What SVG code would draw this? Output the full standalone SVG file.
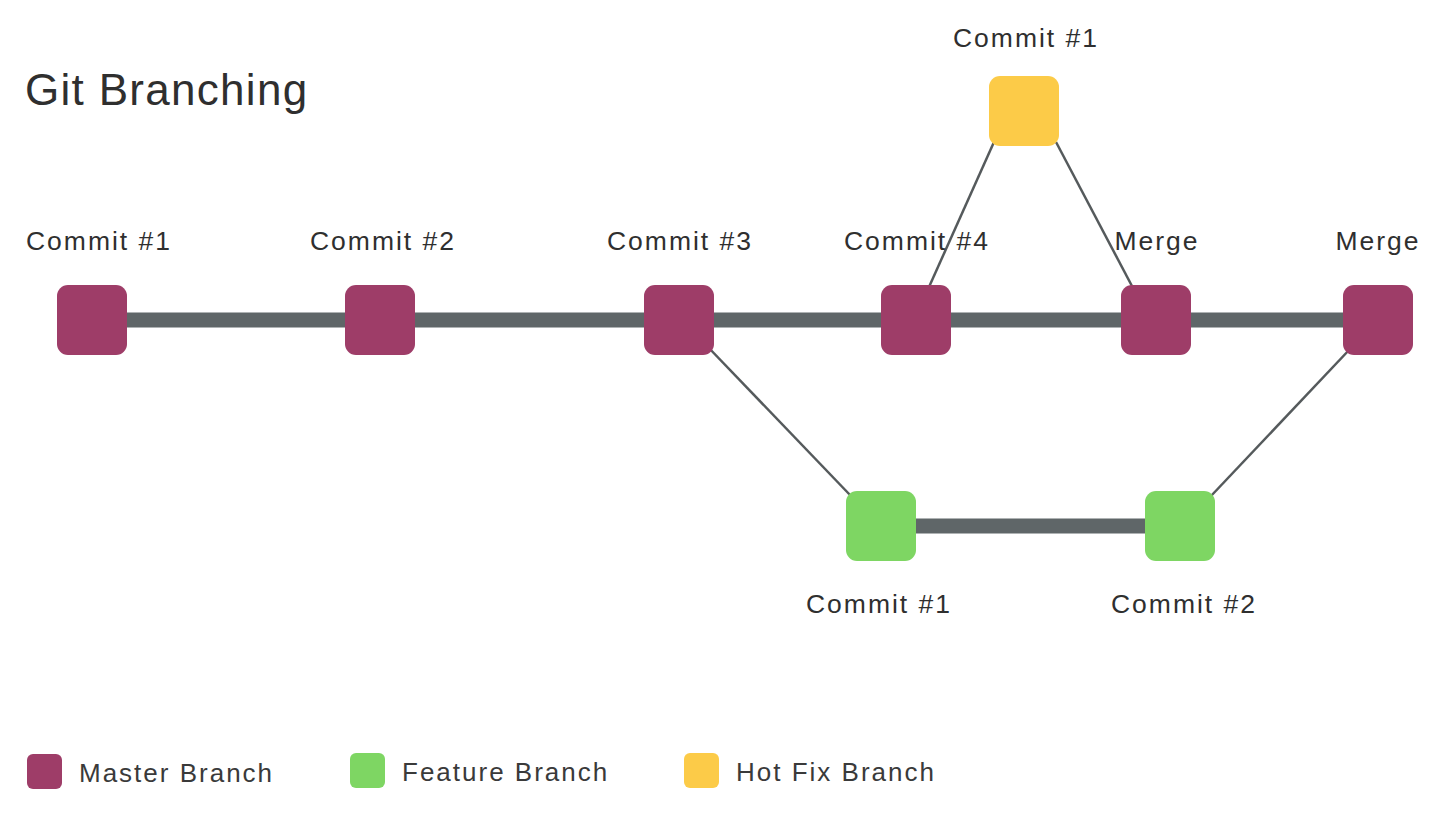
<svg xmlns="http://www.w3.org/2000/svg" width="1443" height="818" viewBox="0 0 1443 818">
  <style>
    .lbl { font-family: "Liberation Sans", Arial, sans-serif; font-size: 26.5px; fill: #2f2f2f; text-anchor: middle; letter-spacing: 2px; }
    .title { font-family: "Liberation Sans", Arial, sans-serif; font-size: 44px; fill: #2f2f2f; letter-spacing: 1.3px; }
    .legend { font-family: "Liberation Sans", Arial, sans-serif; font-size: 26px; fill: #3a3a3a; letter-spacing: 2px; }
    .master { fill: #9e3d68; }
    .feature { fill: #7ed663; }
    .hotfix { fill: #fccb48; }
    .trunk { stroke: #5f6668; stroke-width: 15; fill: none; }
    .link { stroke: #555a5c; stroke-width: 2.5; fill: none; }
  </style>
  <rect width="1443" height="818" fill="#ffffff"/>

  <text class="title" x="25" y="105">Git Branching</text>

  <!-- branch lines: thick trunks plus thin fork/merge links -->
  <g id="connectors">
    <line class="trunk" x1="92" y1="320" x2="1378" y2="320"/>
    <line class="trunk" x1="881" y1="526" x2="1180" y2="526"/>
    <line class="link" x1="707" y1="346" x2="851" y2="496"/>
    <line class="link" x1="1211" y1="496" x2="1350" y2="349"/>
    <line class="link" x1="929" y1="287" x2="994" y2="142"/>
    <line class="link" x1="1056" y1="142" x2="1133" y2="288"/>
  </g>

  <!-- master branch commits -->
  <g id="m1"><rect class="master" x="57" y="285" width="70" height="70" rx="11"/><text class="lbl" x="99" y="250">Commit #1</text></g>
  <g id="m2"><rect class="master" x="345" y="285" width="70" height="70" rx="11"/><text class="lbl" x="383" y="250">Commit #2</text></g>
  <g id="m3"><rect class="master" x="644" y="285" width="70" height="70" rx="11"/><text class="lbl" x="680" y="250">Commit #3</text></g>
  <g id="m4"><rect class="master" x="881" y="285" width="70" height="70" rx="11"/><text class="lbl" x="917" y="250">Commit #4</text></g>
  <g id="m5"><rect class="master" x="1121" y="285" width="70" height="70" rx="11"/><text class="lbl" x="1157" y="250">Merge</text></g>
  <g id="m6"><rect class="master" x="1343" y="285" width="70" height="70" rx="11"/><text class="lbl" x="1378" y="250">Merge</text></g>

  <!-- hot fix branch -->
  <g id="h1"><rect class="hotfix" x="989" y="76" width="70" height="70" rx="11"/><text class="lbl" x="1026" y="47">Commit #1</text></g>

  <!-- feature branch -->
  <g id="f1"><rect class="feature" x="846" y="491" width="70" height="70" rx="11"/><text class="lbl" x="879" y="613">Commit #1</text></g>
  <g id="f2"><rect class="feature" x="1145" y="491" width="70" height="70" rx="11"/><text class="lbl" x="1184" y="613">Commit #2</text></g>

  <g id="legend">
    <rect class="master" x="27" y="754" width="35" height="35" rx="6"/>
    <text class="legend" x="79" y="782">Master Branch</text>
    <rect class="feature" x="350" y="753" width="35" height="35" rx="6"/>
    <text class="legend" x="402" y="781">Feature Branch</text>
    <rect class="hotfix" x="684" y="753" width="35" height="35" rx="6"/>
    <text class="legend" x="736" y="781">Hot Fix Branch</text>
  </g>
</svg>
